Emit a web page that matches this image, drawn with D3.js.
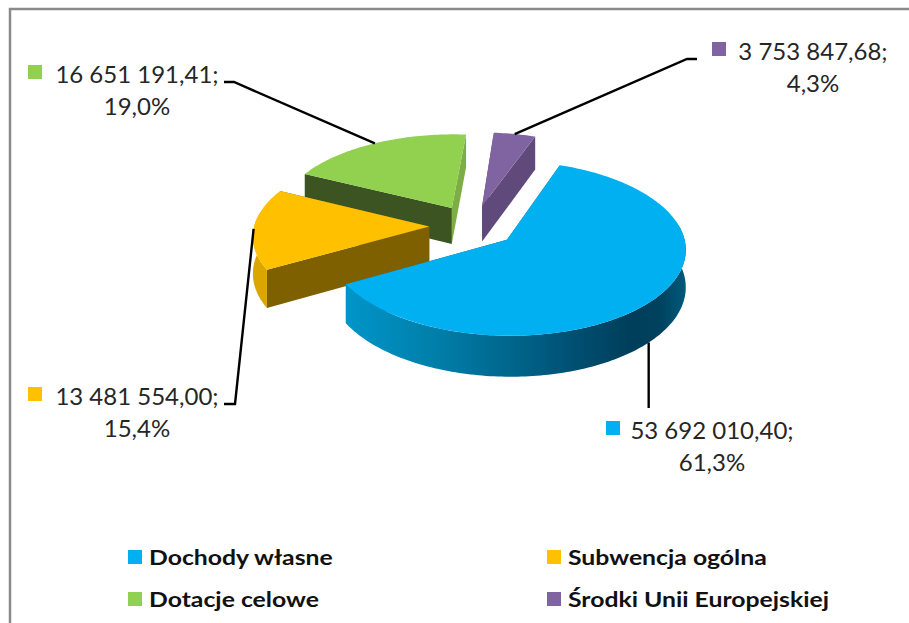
<!DOCTYPE html>
<html>
<head>
<meta charset="utf-8">
<style>
  html, body { margin: 0; padding: 0; background: #fff; overflow: hidden; }
  text { font-family: Lato, "Open Sans", sans-serif; }
</style>
<script src="https://d3js.org/d3.v7.min.js"></script>
</head>
<body>
<script>
// chart values
var categories = ["Dochody własne", "Subwencja ogólna", "Dotacje celowe", "Środki Unii Europejskiej"];
var values = [53692010.40, 13481554.00, 16651191.41, 3753847.68];
var valueLabels = ["53 692 010,40;", "13 481 554,00;", "16 651 191,41;", "3 753 847,68;"];
var percentLabels = ["61,3%", "15,4%", "19,0%", "4,3%"];

var topColors = ["#00B0F0", "#FFC000", "#92D050", "#8064A2"];
var wallColors = ["#0090c4", "#dba600", "#7dae46", "#6d5590"];
var cutColors = ["#006a90", "#7f6000", "#3c5322", "#604a7b"];

var width = 909, height = 623;
var svg = d3.select("body").append("svg").attr("width", width).attr("height", height);

// frame of the chart area, only top and left edges fall inside the crop
svg.append("rect").attr("x", 10).attr("y", 9).attr("width", 960).attr("height", 700)
   .attr("fill", "#fff").attr("stroke", "#8a8a8a").attr("stroke-width", 2.5);

// gradient on the round wall of the big slice
var grad = svg.append("defs").append("linearGradient").attr("id", "wall0")
   .attr("gradientUnits", "userSpaceOnUse")
   .attr("x1", 346).attr("x2", 686).attr("y1", 0).attr("y2", 0);
[[0, "#0095c9"], [0.25, "#0080ab"], [0.5, "#00648a"], [0.7, "#004c6e"], [0.83, "#003f5b"], [0.92, "#00415e"], [1, "#005a7c"]]
  .forEach(function (d) {
    grad.append("stop").attr("offset", d[0]).attr("stop-color", d[1]);
  });

// 3d set-up: plane coordinates go through a small perspective
var cx = 473, cy = 226, rx = 175, ry = 84, persp = 0.095, depth = 36.5, explode = 0.25;
var scaleX = d3.scaleLinear().domain([0, 1]).range([cx, cx + rx]);
var scaleY = d3.scaleLinear().domain([0, 1]).range([cy, cy + ry]);

function project(u, v, z) {
  var s = 1 / (1 - persp * v);
  return [scaleX(u * s), scaleY(v * s) + z * depth * s];
}

var pie = d3.pie().sort(null)
  .startAngle(20 * Math.PI / 180)
  .endAngle(380 * Math.PI / 180);
var slices = pie(values);

// point of a slice: r is 0 at the apex and 1 on the rim
function slicePoint(d, angle, r, z) {
  var mid = (d.startAngle + d.endAngle) / 2;
  var u = explode * Math.sin(mid) + r * Math.sin(angle);
  var v = -explode * Math.cos(mid) - r * Math.cos(angle);
  return project(u, v, z);
}

function arcAngles(a0, a1) {
  var n = Math.ceil((a1 - a0) / 0.02);
  return d3.range(n + 1).map(function (i) {
    return a0 + (a1 - a0) * i / n;
  });
}

var line = d3.line().curve(d3.curveLinear);

function topPath(d) {
  var pts = [slicePoint(d, d.startAngle, 0, 0)];
  arcAngles(d.startAngle, d.endAngle).forEach(function (a) { pts.push(slicePoint(d, a, 1, 0)); });
  return line(pts) + "Z";
}
// only the part of the rim that faces the viewer gets a wall
function wallPath(d) {
  var a0 = Math.max(d.startAngle, 80 * Math.PI / 180);
  var a1 = Math.min(d.endAngle, 280 * Math.PI / 180);
  if (a1 <= a0) return null;
  var angles = arcAngles(a0, a1);
  var upper = angles.map(function (a) { return slicePoint(d, a, 1, 0); });
  var lower = angles.slice().reverse().map(function (a) { return slicePoint(d, a, 1, 1); });
  return line(upper.concat(lower)) + "Z";
}
function cutPath(d, angle) {
  return line([
    slicePoint(d, angle, 0, 0), slicePoint(d, angle, 1, 0),
    slicePoint(d, angle, 1, 1), slicePoint(d, angle, 0, 1)
  ]) + "Z";
}

// back slices first: green, purple, orange, blue
var drawOrder = [2, 3, 1, 0];
drawOrder.forEach(function (i) {
  var d = slices[i];
  var g = svg.append("g");
  g.append("path").attr("d", cutPath(d, d.endAngle)).attr("fill", i === 2 ? wallColors[2] : cutColors[i]);
  g.append("path").attr("d", cutPath(d, d.startAngle)).attr("fill", cutColors[i]);
  g.append("path").attr("d", wallPath(d)).attr("fill", i === 0 ? "url(#wall0)" : wallColors[i]);
  g.append("path").attr("d", topPath(d)).attr("fill", topColors[i]);
});

// data labels with their leader lines
var labelLayout = [
  { x: 712, y: 439, key: 606, keyY: 421, elbow: [[649, 408]], shift: 2.5, z: 1 },
  { x: 137, y: 405, key: 28, keyY: 387, elbow: [[235, 404], [224, 404]], shift: 0, z: 0 },
  { x: 137, y: 83, key: 28, keyY: 65, elbow: [[234, 82], [224, 82]], shift: 0, z: 0 },
  { x: 813, y: 60, key: 712, keyY: 42, elbow: [[687, 59], [697, 59]], shift: 0, z: 0 }
];

slices.forEach(function (d, i) {
  var p = labelLayout[i];
  var mid = (d.startAngle + d.endAngle) / 2 + p.shift * Math.PI / 180;
  var start = slicePoint(d, mid, 1, p.z);
  var pts = [start].concat(p.elbow);
  if (i === 0) pts[1] = [start[0], p.elbow[0][1]];
  svg.append("path").attr("d", line(pts)).attr("fill", "none")
     .attr("stroke", "#000").attr("stroke-width", 2.4);
  svg.append("rect").attr("x", p.key).attr("y", p.keyY).attr("width", 14).attr("height", 14)
     .attr("fill", topColors[i]);
  svg.append("text").attr("x", p.x).attr("y", p.y).attr("text-anchor", "middle")
     .attr("font-size", 24).attr("fill", "#262626").text(valueLabels[i]);
  svg.append("text").attr("x", p.x).attr("y", p.y + 32).attr("text-anchor", "middle")
     .attr("font-size", 24).attr("fill", "#262626").text(percentLabels[i]);
});

// legend, text stretched sideways like in the original
var legendX = d3.scalePoint().domain([0, 1]).range([128, 547]);
var legendY = d3.scalePoint().domain([0, 1]).range([550, 592]);
categories.forEach(function (c, i) {
  var col = i % 2, row = Math.floor(i / 2);
  svg.append("rect").attr("x", legendX(col)).attr("y", legendY(row)).attr("width", 14).attr("height", 14)
     .attr("fill", topColors[i]);
  svg.append("text")
     .attr("transform", "translate(" + (legendX(col) + 21) + "," + (legendY(row) + 15) + ") scale(1.18,1)")
     .attr("font-size", 21).attr("font-weight", 700).attr("fill", "#111").text(c);
});
</script>
</body>
</html>
